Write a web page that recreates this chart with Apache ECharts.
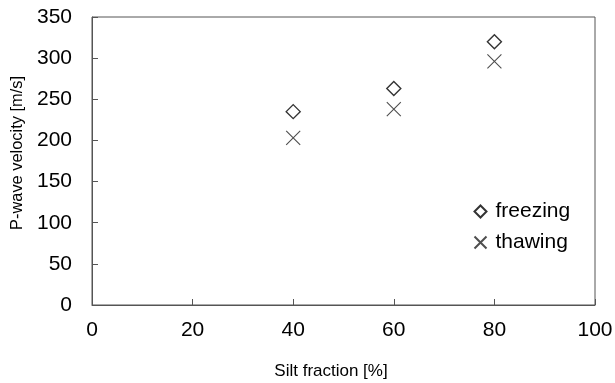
<!DOCTYPE html>
<html>
<head>
<meta charset="utf-8">
<script src="https://cdn.jsdelivr.net/npm/echarts@6/dist/echarts.min.js"></script>
<style>html,body{margin:0;padding:0;background:#fff}#c{width:615px;height:383px}</style>
</head>
<body>
<div id="c"></div>
<script>
const siltFraction = [40, 60, 80];
const freezing = [235, 263, 320];
const thawing = [203, 238, 296];
const xTicks = [0, 20, 40, 60, 80, 100];
const yTicks = [0, 50, 100, 150, 200, 250, 300, 350];

const FONT = '"Liberation Sans", Arial, sans-serif';
const axisColor = '#555';
const chart = echarts.init(document.getElementById('c'), null, {renderer: 'canvas'});
chart.setOption({
  animation: false,
  backgroundColor: '#fff',
  textStyle: {fontFamily: FONT},
  grid: {left: 92, right: 20, top: 17, bottom: 78, show: true, borderColor: axisColor, borderWidth: 1, backgroundColor: 'transparent', containLabel: false, outerBoundsMode: 'none'},
  legend: {
    orient: 'vertical', left: 467, top: 196, itemWidth: 12, itemHeight: 12, itemGap: 10,
    textStyle: {fontSize: 21, color: '#000', fontFamily: FONT, padding: [0,0,0,4]},
    data: ['freezing', 'thawing']
  },
  xAxis: {
    type: 'value', min: xTicks[0], max: xTicks[xTicks.length-1], interval: 20,
    name: 'Silt fraction [%]', nameLocation: 'middle', nameGap: 58,
    nameTextStyle: {fontSize: 17, color: '#000', fontFamily: FONT, padding: [0, 25, 0, 0]},
    axisLine: {lineStyle: {color: axisColor, width: 1}},
    axisTick: {inside: true, length: 6, lineStyle: {color: axisColor}},
    axisLabel: {fontSize: 21, color: '#000', margin: 15, fontFamily: FONT},
    splitLine: {show: false}
  },
  yAxis: {
    type: 'value', min: yTicks[0], max: yTicks[yTicks.length-1], interval: 50,
    name: 'P-wave velocity [m/s]', nameLocation: 'middle', nameGap: 67,
    nameTextStyle: {fontSize: 16.4, color: '#000', fontFamily: FONT, padding: [0, 0, 0, 16]},
    axisLine: {show: true, lineStyle: {color: axisColor, width: 1}},
    axisTick: {show: true, inside: true, length: 6, lineStyle: {color: axisColor}},
    axisLabel: {fontSize: 21, color: '#000', margin: 20, fontFamily: FONT},
    splitLine: {show: false}
  },
  series: [
    {
      name: 'freezing', type: 'scatter', symbol: 'diamond', symbolSize: 14,
      itemStyle: {color: '#fff', borderColor: '#000', borderWidth: 1.4},
      data: siltFraction.map((x, i) => [x, freezing[i]])
    },
    {
      name: 'thawing', type: 'scatter', symbol: 'path://M0,0L10,10M10,0L0,10', symbolSize: 14,
      itemStyle: {color: 'none', borderColor: '#222', borderWidth: 1.1},
      data: siltFraction.map((x, i) => [x, thawing[i]])
    }
  ]
});
</script>
</body>
</html>
